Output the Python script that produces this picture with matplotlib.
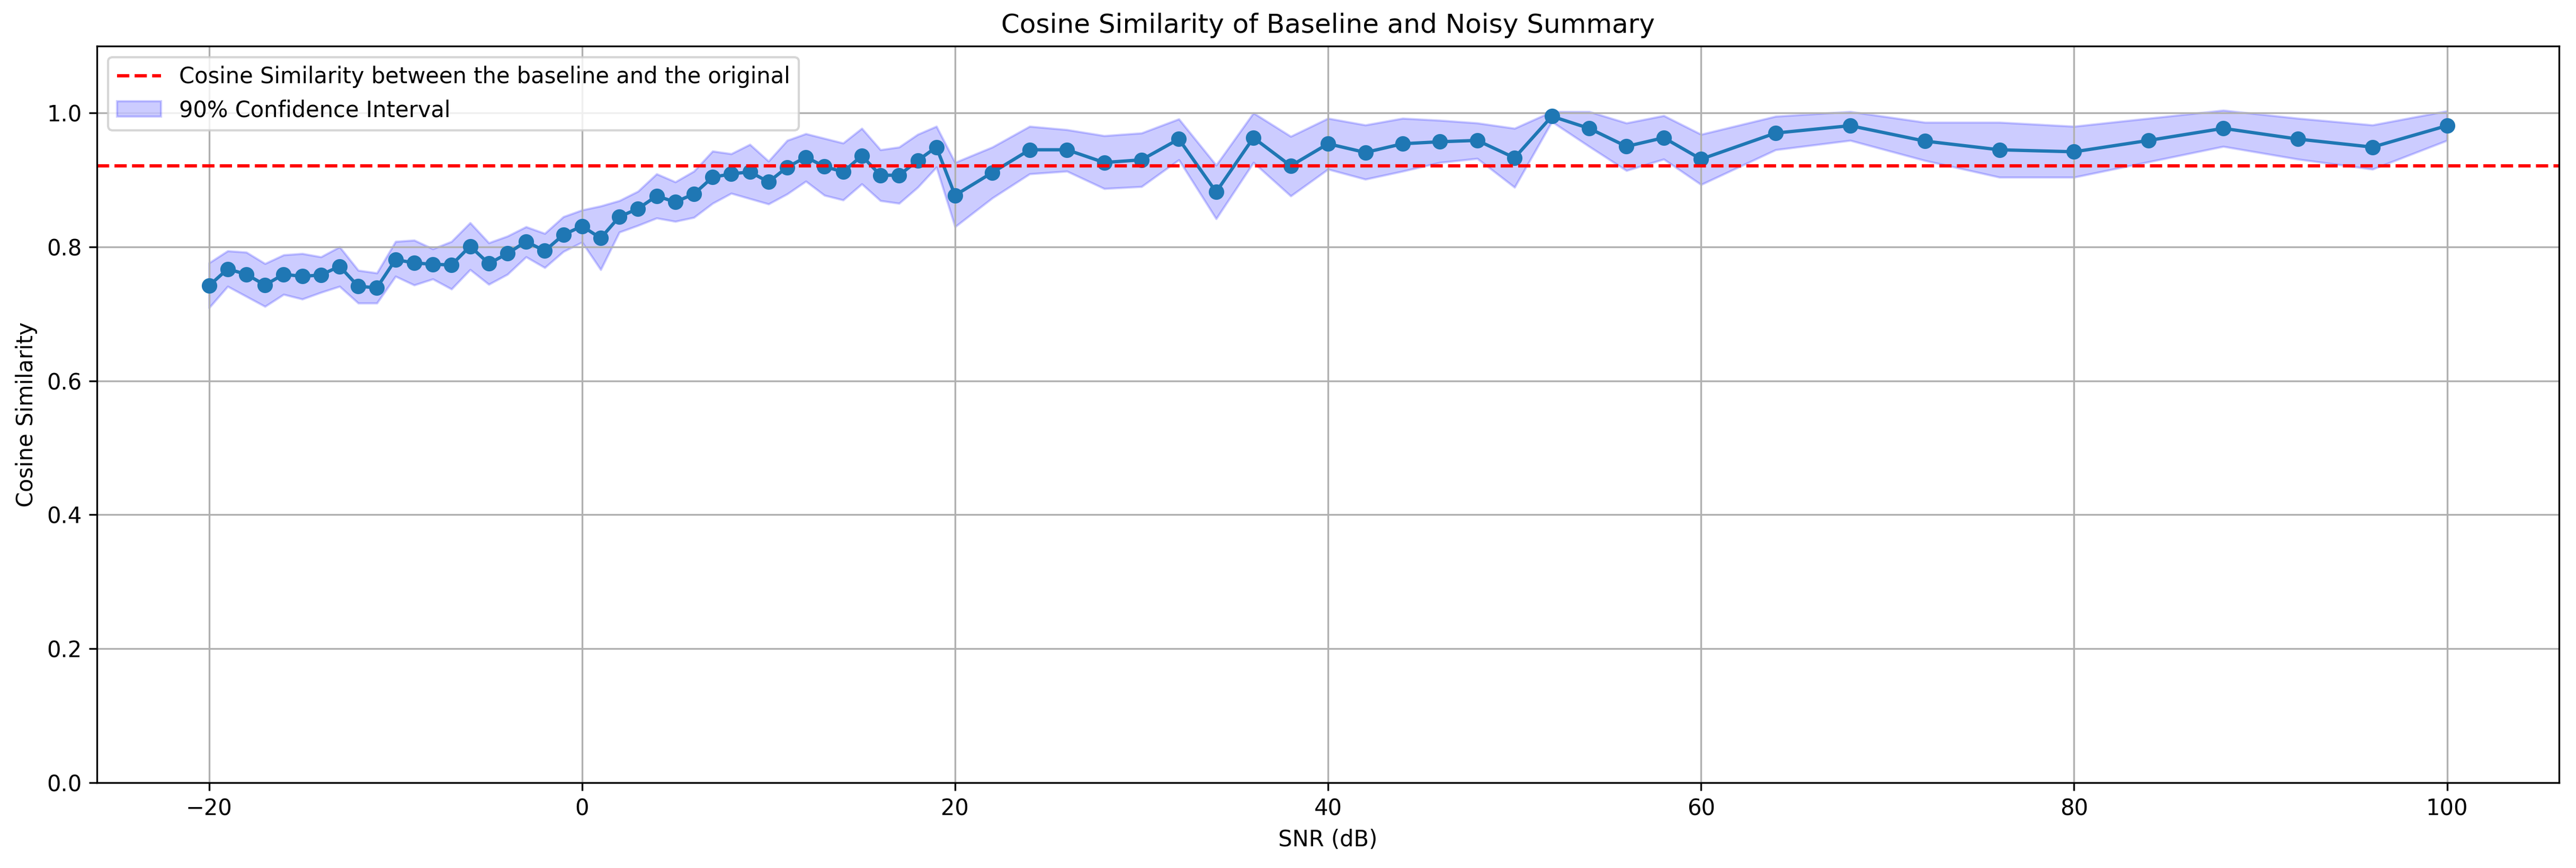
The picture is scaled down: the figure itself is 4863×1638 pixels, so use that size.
import matplotlib; matplotlib.use("Agg")
import matplotlib.pyplot as plt

# SNR levels (dB)
snr = list(range(-20, 20)) + list(range(20, 61, 2)) + list(range(64, 101, 4))

mean_sim = [
    0.742, 0.767, 0.759, 0.743, 0.759, 0.756, 0.758, 0.771, 0.741, 0.739,
    0.781, 0.776, 0.774, 0.773, 0.801, 0.775, 0.790, 0.808, 0.794, 0.818,
    0.831, 0.813, 0.845, 0.857, 0.876, 0.867, 0.879, 0.904, 0.909, 0.912,
    0.897, 0.919, 0.934, 0.920, 0.912, 0.936, 0.907, 0.907, 0.929, 0.949,
    0.877, 0.911, 0.945, 0.945, 0.926, 0.930, 0.961, 0.882, 0.963, 0.921,
    0.954, 0.941, 0.954, 0.957, 0.959, 0.933, 0.995, 0.977, 0.950, 0.963,
    0.931,
    0.970, 0.981, 0.958, 0.945, 0.942, 0.959, 0.977, 0.961, 0.949, 0.981,
]
ci_upper = [
    0.776, 0.794, 0.792, 0.775, 0.788, 0.790, 0.785, 0.800, 0.765, 0.761,
    0.808, 0.810, 0.797, 0.808, 0.836, 0.806, 0.816, 0.830, 0.820, 0.845,
    0.855, 0.861, 0.869, 0.883, 0.909, 0.897, 0.913, 0.943, 0.939, 0.953,
    0.928, 0.959, 0.969, 0.962, 0.955, 0.977, 0.945, 0.949, 0.968, 0.980,
    0.926, 0.949, 0.980, 0.975, 0.966, 0.970, 0.991, 0.922, 1.000, 0.965,
    0.992, 0.982, 0.992, 0.989, 0.985, 0.977, 1.002, 1.002, 0.985, 0.996,
    0.968,
    0.995, 1.002, 0.986, 0.986, 0.980, 0.992, 1.004, 0.992, 0.982, 1.003,
]
ci_lower = [
    0.709, 0.741, 0.726, 0.711, 0.729, 0.722, 0.732, 0.741, 0.716, 0.716,
    0.756, 0.743, 0.752, 0.737, 0.766, 0.744, 0.759, 0.785, 0.769, 0.793,
    0.807, 0.766, 0.822, 0.832, 0.843, 0.838, 0.844, 0.865, 0.880, 0.872,
    0.864, 0.879, 0.898, 0.877, 0.870, 0.894, 0.869, 0.865, 0.889, 0.919,
    0.830, 0.873, 0.909, 0.913, 0.887, 0.890, 0.930, 0.842, 0.926, 0.876,
    0.916, 0.901, 0.913, 0.926, 0.932, 0.889, 0.987, 0.950, 0.914, 0.931,
    0.893,
    0.945, 0.959, 0.929, 0.904, 0.904, 0.927, 0.950, 0.931, 0.916, 0.959,
]
baseline_sim = 0.921

fig = plt.figure(figsize=(16.213, 5.46), dpi=300)
ax = fig.add_axes([0.0377, 0.0985, 0.9555, 0.8485])

ax.plot(snr, mean_sim, "o-", color="#1f77b4")
ax.fill_between(snr, ci_lower, ci_upper, color="blue", alpha=0.2,
                label="90% Confidence Interval")
ax.axhline(baseline_sim, color="red", linestyle="--",
           label="Cosine Similarity between the baseline and the original")

ax.set_ylim(0, 1.1)
ax.set_xlim(-26, 106)
ax.set_title("Cosine Similarity of Baseline and Noisy Summary")
ax.set_xlabel("SNR (dB)")
ax.set_ylabel("Cosine Similarity")
ax.grid(True)
h, l = ax.get_legend_handles_labels()
ax.legend(h[::-1], l[::-1], loc="upper left")

fig.savefig("out.png", dpi=300)
